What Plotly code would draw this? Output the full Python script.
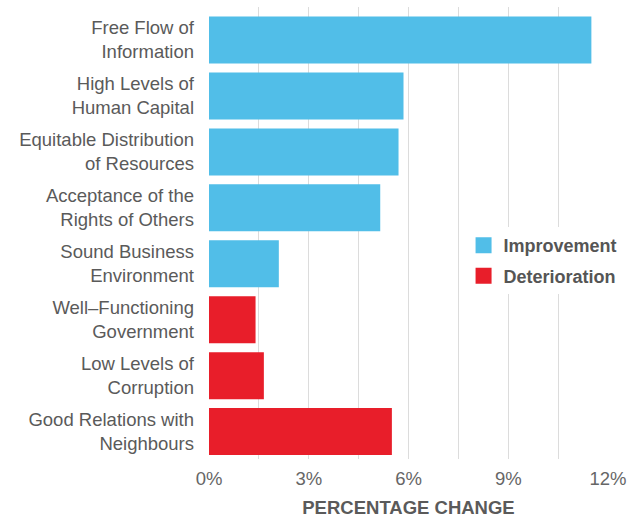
import plotly.graph_objects as go

# Pillars of peace and their percentage change
labels = [
    "Free Flow of<br>Information",
    "High Levels of<br>Human Capital",
    "Equitable Distribution<br>of Resources",
    "Acceptance of the<br>Rights of Others",
    "Sound Business<br>Environment",
    "Well\u2013Functioning<br>Government",
    "Low Levels of<br>Corruption",
    "Good Relations with<br>Neighbours",
]
change_pct = [11.5, 5.85, 5.7, 5.15, 2.1, 1.4, 1.65, 5.5]
direction = ["Improvement"] * 5 + ["Deterioration"] * 3

x_ticks = [0, 3, 6, 9, 12]
x_tick_text = ["0%", "3%", "6%", "9%", "12%"]

colors = {"Improvement": "#51BEE8", "Deterioration": "#E81E2A"}
FONT = "Liberation Sans, Arial, Helvetica, sans-serif"
TEXT = "#5a5a5a"

fig = go.Figure()
for name in ["Improvement", "Deterioration"]:
    ys = [l for l, d in zip(labels, direction) if d == name]
    xs = [v for v, d in zip(change_pct, direction) if d == name]
    fig.add_trace(go.Bar(
        x=xs, y=ys, orientation="h", name=name, legendgroup=name,
        marker=dict(color=colors[name], line=dict(width=0)),
        showlegend=False, hoverinfo="x+y",
    ))
    # legend swatch
    fig.add_trace(go.Scatter(
        x=[None], y=[None], mode="markers", name=name, legendgroup=name,
        marker=dict(symbol="square", size=16, color=colors[name]),
        showlegend=True,
    ))

fig.update_layout(
    width=635, height=521,
    margin=dict(l=209, r=27, t=7, b=60),
    paper_bgcolor="white", plot_bgcolor="white",
    barmode="overlay", bargap=0.16,
    font=dict(family=FONT, size=18.5, color=TEXT),
    legend=dict(
        x=0.638, xanchor="left", y=0.513, yanchor="top",
        bgcolor="white", borderwidth=0,
        font=dict(family=FONT, size=18, color="#555555", weight="bold"),
        itemwidth=30, tracegroupgap=4, traceorder="grouped",
    ),
    showlegend=True,
)

fig.update_xaxes(
    range=[0, 12], tickvals=x_ticks, ticktext=x_tick_text,
    showgrid=True, gridcolor="#dcdcdc", gridwidth=1,
    minor=dict(dtick=1.5, tick0=0, showgrid=True, gridcolor="#dcdcdc", gridwidth=1),
    zeroline=False, showline=False,
    ticks="outside", ticklen=3, tickcolor="white",
    tickfont=dict(family=FONT, size=18.5, color="#666666"),
    title=dict(text="PERCENTAGE CHANGE", standoff=12,
               font=dict(family=FONT, size=18.5, color=TEXT, weight="bold")),
)

fig.update_yaxes(
    type="category", categoryorder="array", categoryarray=labels,
    range=[7.49, -0.59],
    showgrid=False, zeroline=False, showline=False,
    ticks="", ticklabelstandoff=14,
    tickfont=dict(family=FONT, size=18.5, color=TEXT),
)

fig.write_html("out.html")
